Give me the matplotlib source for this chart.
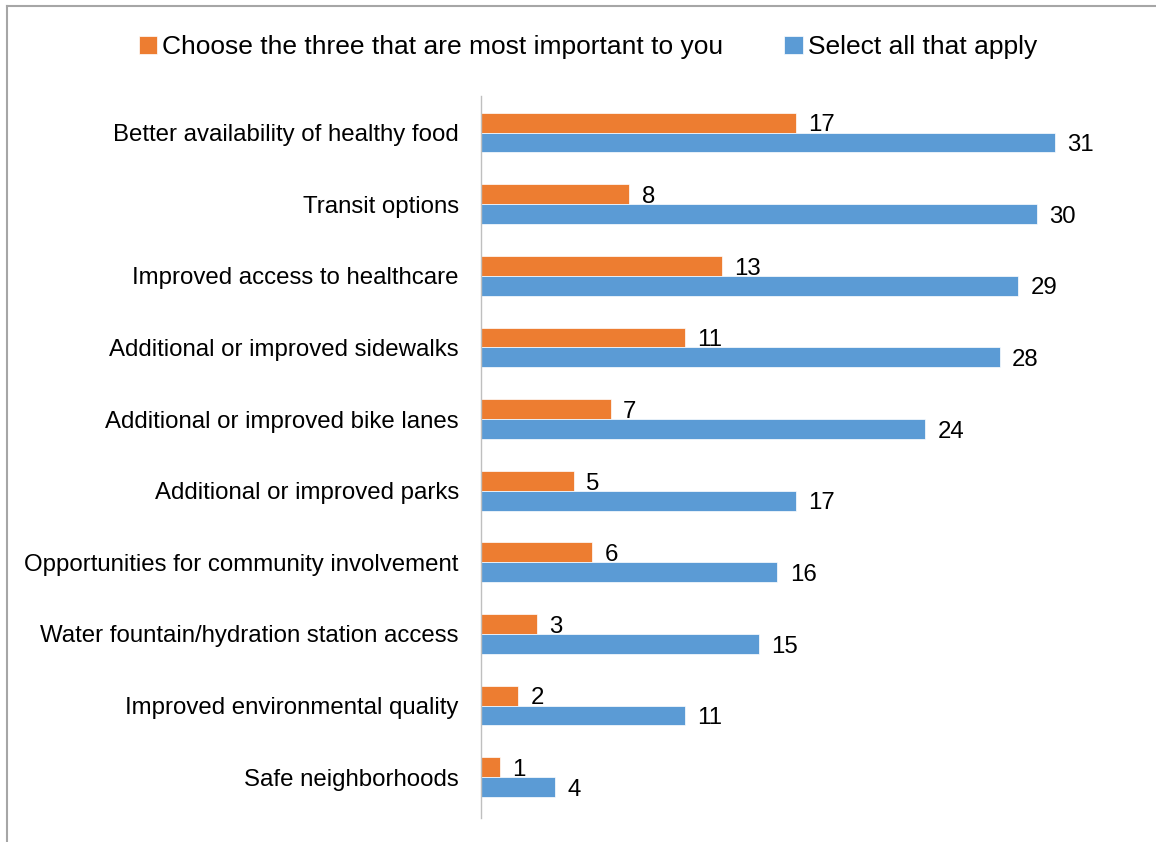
import matplotlib
matplotlib.use("Agg")
import matplotlib.pyplot as plt
from matplotlib.lines import Line2D
import numpy as np

categories = ['Better availability of healthy food', 'Transit options',
              'Improved access to healthcare', 'Additional or improved sidewalks',
              'Additional or improved bike lanes', 'Additional or improved parks',
              'Opportunities for community involvement',
              'Water fountain/hydration station access',
              'Improved environmental quality', 'Safe neighborhoods']
top_three = [17, 8, 13, 11, 7, 5, 6, 3, 2, 1]
select_all = [31, 30, 29, 28, 24, 17, 16, 15, 11, 4]
series_names = ['Choose the three that are most important to you', 'Select all that apply']

plt.rcParams['font.family'] = ['Liberation Sans', 'DejaVu Sans']

fig = plt.figure(figsize=(11.56, 8.42), dpi=100)
ax = fig.add_axes([481/1156, 24/842, 630/1156, 722/842])

y = np.arange(len(categories))
h = 0.277
orange = '#ED7D31'
blue = '#5B9BD5'
b1 = ax.barh(y - h/2, top_three, height=h, color=orange, edgecolor='white', linewidth=0.5)
b2 = ax.barh(y + h/2, select_all, height=h, color=blue, edgecolor='white', linewidth=0.5)

for bars in (b1, b2):
    for r in bars:
        ax.annotate(str(int(r.get_width())), (r.get_width(), r.get_y() + r.get_height()/2),
                    xytext=(9, -2), textcoords='offset points', va='center', ha='left',
                    fontsize=17.3, color='black')

ax.set_xlim(0, 630/18.52)
ax.set_ylim(9.57, -0.51)
ax.set_yticks(y)
ax.set_yticklabels(categories, fontsize=17.3)
ax.tick_params(axis='y', length=0, pad=16)
ax.set_xticks([])
for s in ['top', 'right', 'bottom']:
    ax.spines[s].set_visible(False)
ax.spines['left'].set_color('#BFBFBF')
ax.spines['left'].set_linewidth(1)

fig.legend([b1, b2], series_names, loc='center', bbox_to_anchor=(588/1156, 1 - 47/842),
           ncol=2, frameon=False, fontsize=19, handlelength=0.7, handleheight=0.7,
           handletextpad=0.2, columnspacing=2.3)

# chart border (top and left edges visible)
fig.add_artist(Line2D([7/1156, 1], [1 - 6/842, 1 - 6/842], color='#A6A6A6', lw=1.5,
                      transform=fig.transFigure))
fig.add_artist(Line2D([7/1156, 7/1156], [0, 1 - 6/842], color='#A6A6A6', lw=1.5,
                      transform=fig.transFigure))

fig.savefig('out.png', dpi=100)
